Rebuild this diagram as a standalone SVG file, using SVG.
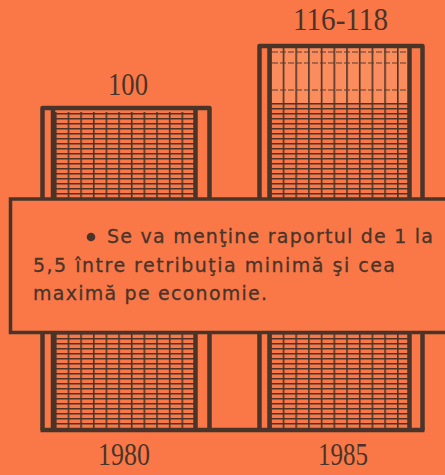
<svg xmlns="http://www.w3.org/2000/svg" width="445" height="475" viewBox="0 0 445 475">
<style>
.frame{fill:none;stroke:#4a3429;stroke-width:4.5;stroke-linejoin:round}
.thick{stroke:#4a3429;stroke-width:4.5}
.num{font-family:"Liberation Serif",serif;font-size:32px;fill:#4a3429}
.txt{font-family:"DejaVu Sans","Liberation Sans",sans-serif;font-size:19px;fill:#4a3429;stroke:#4a3429;stroke-width:0.3}
.dash{stroke:#5a3a2c;stroke-width:1.2;stroke-dasharray:6 2}
</style>
<defs>
<pattern id="grid1" patternUnits="userSpaceOnUse" x="55" y="113" width="12.65" height="5">
<rect x="0" y="0" width="1.6" height="5" fill="#4a3429"/>
<rect x="0" y="0" width="12.65" height="1.5" fill="#4a3429"/>
</pattern>
<pattern id="grid2" patternUnits="userSpaceOnUse" x="270" y="103" width="12.7" height="5">
<rect x="0" y="0" width="1.6" height="5" fill="#4a3429"/>
<rect x="0" y="0" width="12.7" height="1.5" fill="#4a3429"/>
</pattern>
<pattern id="vert2" patternUnits="userSpaceOnUse" x="270" y="48" width="12.7" height="60">
<rect x="0" y="0" width="1.6" height="60" fill="#4a3429"/>
</pattern>
</defs>
<rect width="445" height="475" fill="#fa7848"/>

<g id="bar1980">
<rect x="55" y="112" width="139" height="316" fill="url(#grid1)"/>
<path class="frame" d="M42.5,430 V108 H209.5 V430"/>
<line class="thick" x1="53" y1="108" x2="53" y2="430"/>
<line class="thick" x1="195.5" y1="108" x2="195.5" y2="430"/>
<text class="num" x="108" y="95" textLength="40" lengthAdjust="spacingAndGlyphs">100</text>
<text class="num" x="98" y="465" textLength="52" lengthAdjust="spacingAndGlyphs">1980</text>
</g>

<g id="bar1985">
<rect x="270" y="48" width="139" height="55" fill="#fb8c5e"/>
<rect x="270" y="48" width="139" height="55" fill="url(#vert2)"/>
<line class="dash" x1="272" y1="52" x2="408" y2="52"/>
<line class="dash" x1="272" y1="63" x2="408" y2="63"/>
<line class="dash" x1="272" y1="90" x2="408" y2="90"/>
<rect x="270" y="103" width="139" height="325" fill="url(#grid2)"/>
<path class="frame" d="M259.5,430 V46 H422.5 V430"/>
<line class="thick" x1="269.5" y1="46" x2="269.5" y2="430"/>
<line class="thick" x1="409.5" y1="46" x2="409.5" y2="430"/>
<text class="num" x="293" y="30" textLength="95" lengthAdjust="spacingAndGlyphs">116-118</text>
<text class="num" x="318" y="465" textLength="50" lengthAdjust="spacingAndGlyphs">1985</text>
</g>

<g id="connectors">
<line class="thick" x1="40.5" y1="430" x2="424.5" y2="430"/>
</g>

<g id="note">
<rect x="10.5" y="199" width="450" height="133.5" fill="#fa7848" stroke="#4a3429" stroke-width="3.5"/>
<circle cx="91" cy="237" r="4.3" fill="#4a3429"/>
<text class="txt" x="107" y="243" textLength="326" lengthAdjust="spacing">Se va menţine raportul de 1 la</text>
<text class="txt" x="33" y="272" textLength="362" lengthAdjust="spacing">5,5 între retribuţia minimă şi cea</text>
<text class="txt" x="33" y="300" textLength="234" lengthAdjust="spacing">maximă pe economie.</text>
</g>
</svg>
